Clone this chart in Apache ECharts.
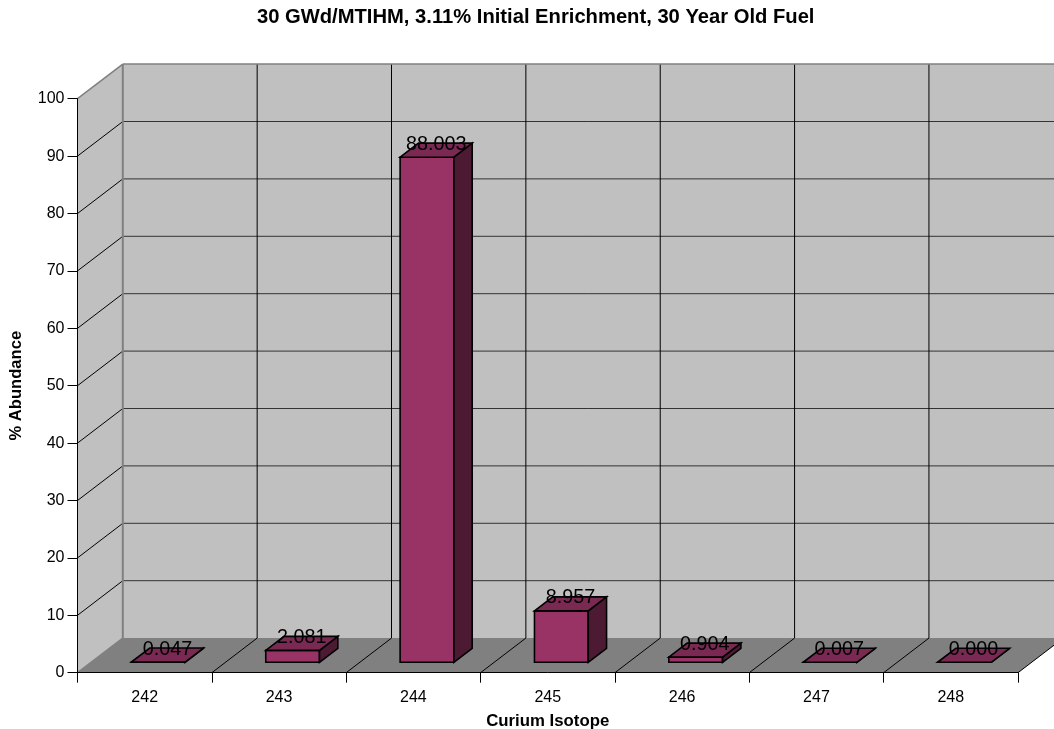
<!DOCTYPE html>
<html>
<head>
<meta charset="utf-8">
<style>html,body{margin:0;padding:0;background:#fff}#chart{width:1054px;height:729px}</style>
<script src="https://cdn.jsdelivr.net/npm/echarts@6/dist/echarts.min.js"></script>
</head>
<body>
<div id="chart"></div>
<script>
// Curium isotope abundance for spent fuel, drawn as a pseudo-3D column chart.
const isotopes = ['242', '243', '244', '245', '246', '247', '248'];
const abundance = [0.047, 2.081, 88.003, 8.957, 0.904, 0.007, 0.000];
const yTicks = [0, 10, 20, 30, 40, 50, 60, 70, 80, 90, 100];

// Oblique projection of the chart box: pixel shift from front plane to back plane.
const DEPTH_X = 45.3, DEPTH_Y = -34.6;
// Column placement as fractions of the box depth and of the category band.
const BAR_FRONT = 0.30, BAR_BACK = 0.705, BAR_WIDTH = 0.40;

const FONT = '"Liberation Sans", Arial, sans-serif';
const shift = (p, f) => [p[0] + DEPTH_X * f, p[1] + DEPTH_Y * f];

function poly(points, fill, stroke, lineWidth) {
  return {
    type: 'polygon',
    shape: { points },
    style: { fill: fill, stroke: stroke || null, lineWidth: lineWidth || 0 }
  };
}
function line(a, b, stroke, lineWidth) {
  return {
    type: 'line',
    shape: { x1: a[0], y1: a[1], x2: b[0], y2: b[1] },
    style: { stroke, lineWidth, fill: null }
  };
}

// Side wall, back wall, floor and their grid lines.
function renderBox(params, api) {
  const band = api.size([1, 0])[0];
  const n = isotopes.length;
  const at = (edge, v) => {
    const c = api.coord([0, v]);
    return [c[0] - band / 2 + edge * band, c[1]];
  };
  const yMin = yTicks[0], yMax = yTicks[yTicks.length - 1];
  const fl = at(0, yMin), fr = at(n, yMin), tl = at(0, yMax), tr = at(n, yMax);
  const children = [
    poly([tl, shift(tl, 1), shift(fl, 1), fl], '#c0c0c0'),
    poly([shift(tl, 1), shift(tr, 1), shift(fr, 1), shift(fl, 1)], '#c0c0c0'),
    poly([fl, fr, shift(fr, 1), shift(fl, 1)], '#808080')
  ];
  yTicks.slice(1, -1).forEach(v => {
    const p = at(0, v);
    children.push(line(p, shift(p, 1), '#000', 1));
    children.push(line(shift(p, 1), shift(at(n, v), 1), '#333', 1));
  });
  for (let k = 1; k <= n; k++) {
    const b = at(k, yMin), t = at(k, yMax);
    children.push(line(b, shift(b, 1), '#000', 1));
    children.push(line(shift(b, 1), shift(t, 1), '#000', 1));
  }
  children.push(line(tl, shift(tl, 1), '#808080', 1.5));
  children.push(line(shift(tl, 1), shift(tr, 1), '#808080', 1.5));
  children.push(line(shift(tl, 1), shift(fl, 1), '#808080', 2));
  children.push(line(fl, shift(fl, 1), '#808080', 1.5));
  return { type: 'group', children };
}

// One extruded column: front, top and side faces, with its value above the top face.
function renderColumn(params, api) {
  const band = api.size([1, 0])[0];
  const w = band * BAR_WIDTH;
  const base = api.coord([api.value(0), 0]);
  const head = api.coord([api.value(0), api.value(1)]);
  const x0 = base[0] - w / 2, x1 = base[0] + w / 2;
  const fbl = shift([x0, base[1]], BAR_FRONT), fbr = shift([x1, base[1]], BAR_FRONT);
  const ftl = shift([x0, head[1]], BAR_FRONT), ftr = shift([x1, head[1]], BAR_FRONT);
  const step = BAR_BACK - BAR_FRONT;
  const btl = shift(ftl, step), btr = shift(ftr, step), bbr = shift(fbr, step);
  const outline = 1.6;
  return {
    type: 'group',
    children: [
      poly([fbl, fbr, ftr, ftl], '#993366', '#000', outline),
      poly([fbr, bbr, btr, ftr], '#4d1a33', '#000', outline),
      poly([ftl, ftr, btr, btl], '#7a2952', '#000', outline),
      {
        type: 'text',
        style: {
          text: api.value(1).toFixed(3),
          x: (ftl[0] + btr[0]) / 2,
          y: (ftl[1] + btr[1]) / 2 + 4,
          align: 'center',
          verticalAlign: 'bottom',
          font: '19.8px ' + FONT,
          fill: '#000'
        }
      }
    ]
  };
}

const chart = echarts.init(document.getElementById('chart'), null, { renderer: 'canvas' });
chart.setOption({
  animation: false,
  backgroundColor: '#fff',
  title: {
    text: '30 GWd/MTIHM, 3.11% Initial Enrichment, 30 Year Old Fuel',
    left: 530.7,
    top: 2,
    textAlign: 'center',
    textStyle: { fontFamily: FONT, fontSize: 20.2, fontWeight: 'bold', color: '#000' }
  },
  grid: { left: 77.5, right: 36, top: 98.7, bottom: 56.3, containLabel: false, outerBoundsMode: 'none' },
  xAxis: {
    type: 'category',
    data: isotopes,
    z: 10,
    name: 'Curium Isotope',
    nameLocation: 'middle',
    nameGap: 40,
    nameTextStyle: { fontFamily: FONT, fontSize: 16.8, fontWeight: 'bold', color: '#000' },
    axisLine: { show: true, lineStyle: { color: '#000', width: 1 } },
    axisTick: { show: true, length: 10, alignWithLabel: false, lineStyle: { color: '#000' } },
    axisLabel: { fontFamily: FONT, fontSize: 16, color: '#000', margin: 17 },
    splitLine: { show: false }
  },
  yAxis: {
    type: 'value',
    min: yTicks[0],
    max: yTicks[yTicks.length - 1],
    interval: 10,
    z: 10,
    name: '% Abundance',
    nameLocation: 'middle',
    nameRotate: 90,
    nameGap: 53,
    nameTextStyle: { fontFamily: FONT, fontSize: 16.6, fontWeight: 'bold', color: '#000' },
    axisLine: { show: true, lineStyle: { color: '#000', width: 1 } },
    axisTick: { show: true, length: 10, lineStyle: { color: '#000' } },
    axisLabel: { fontFamily: FONT, fontSize: 16, color: '#000', margin: 13, padding: [6, 0, 0, 0] },
    splitLine: { show: false }
  },
  series: [
    {
      type: 'custom',
      z: 1,
      silent: true,
      renderItem: renderBox,
      data: [[0, 0]],
      encode: { x: 0, y: 1 }
    },
    {
      type: 'custom',
      z: 2,
      silent: true,
      renderItem: renderColumn,
      data: abundance.map((v, i) => [i, v]),
      encode: { x: 0, y: 1 }
    }
  ]
});
</script>
</body>
</html>
